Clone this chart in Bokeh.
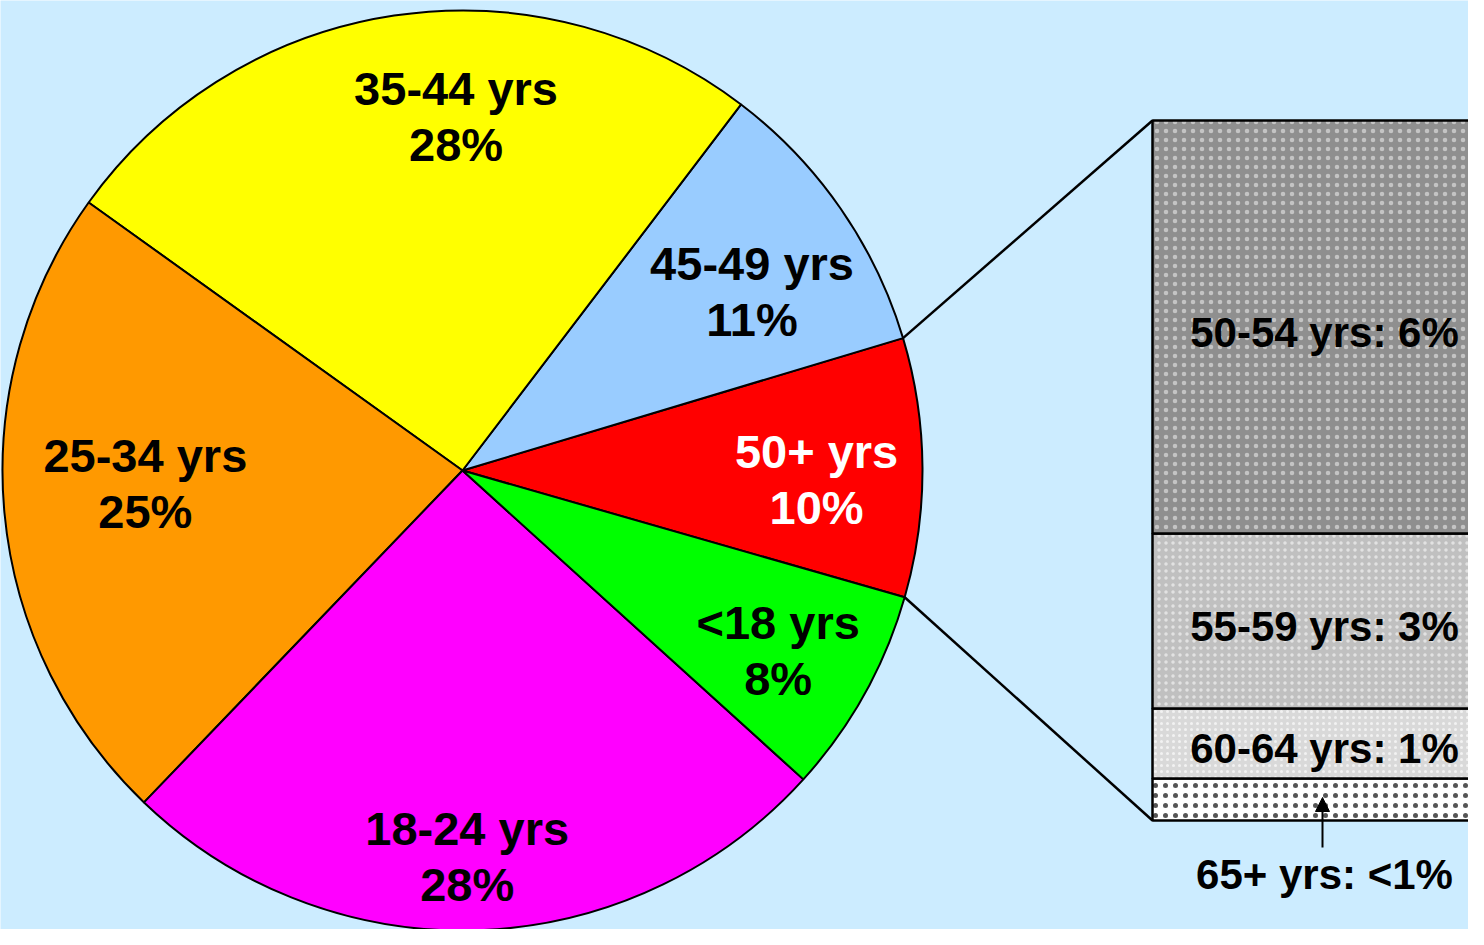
import numpy as np
from bokeh.plotting import figure
from bokeh.models import Range1d, ColumnDataSource, Arrow, NormalHead
from bokeh.core.properties import value
from bokeh.embed import file_html
from bokeh.resources import INLINE

# ---- data ----
pie_labels = ["50+ yrs", "45-49 yrs", "35-44 yrs", "25-34 yrs", "18-24 yrs", "<18 yrs"]
pie_values = [10, 11, 28, 25, 28, 8]
pie_colors = ["#FF0000", "#99CCFF", "#FFFF00", "#FF9900", "#FF00FF", "#00FF00"]
pie_text_colors = ["white", "black", "black", "black", "black", "black"]

bar_labels = ["65+ yrs: <1%", "60-64 yrs: 1%", "55-59 yrs: 3%", "50-54 yrs: 6%"]
bar_values = [0.6, 1.0, 2.5, 5.9]
bar_colors = ["#FFFFFF", "#D9D9D9", "#C0C0C0", "#8F8F8F"]
bar_hatch_colors = ["#555555", "#F2F2F2", "#E2E2E2", "#C4C4C4"]

# ---- layout (label placement nudges, not data) ----
label_radius = [0.77, 0.74, 0.77, 0.69, 0.84, 0.79]
label_angle_shift = [-1.9, -3.0, -7.5, -3.0, -1.3, -0.6]
hatch_scales = [10, 6, 7, 9]
hatch_weights = [0.3, 0.3, 0.3, 0.3]

BG = "#CCECFF"
FONT = "Liberation Sans"

W, H = 1468, 929
p = figure(width=W, height=H, output_backend="svg", toolbar_location=None,
           x_range=Range1d(8, 8 + W), y_range=Range1d(945 - 8 - H, 945 - 8),
           min_border=0)
p.axis.visible = False
p.grid.visible = False
p.outline_line_color = None
p.background_fill_color = BG
p.border_fill_color = BG

# ---- pie ----
cx, cy, R = 470, 467, 460
start0 = np.deg2rad(-16.0)
vals = np.array(pie_values, dtype=float)
frac = vals / vals.sum()
ends = start0 + np.cumsum(frac) * 2 * np.pi
starts = ends - frac * 2 * np.pi
mids = (starts + ends) / 2

src = ColumnDataSource(dict(start=starts, end=ends, color=pie_colors))
p.wedge(x=cx, y=cy, radius=R, start_angle="start", end_angle="end",
        direction="anticlock", fill_color="color", line_color="black",
        line_width=2, source=src)

la = mids + np.deg2rad(label_angle_shift)
lr = np.array(label_radius) * R
lx = cx + lr * np.cos(la)
ly = cy + lr * np.sin(la)
gap = 28
p.text(x=lx, y=ly + gap, text=pie_labels, text_color=pie_text_colors,
       text_font=value(FONT), text_font_style="bold", text_font_size="47px",
       text_align="center", text_baseline="middle")
p.text(x=lx, y=ly - gap, text=[f"{v}%" for v in pie_values], text_color=pie_text_colors,
       text_font=value(FONT), text_font_style="bold", text_font_size="47px",
       text_align="center", text_baseline="middle")

# ---- bar of pie ----
bx0, bx1 = 1160, 1504
bbot, btop = 117, 817
bv = np.array(bar_values)
scale = (btop - bbot) / bv.sum()
tops = bbot + np.cumsum(bv) * scale
bots = tops - bv * scale
for i in range(len(bv)):
    p.quad(left=bx0, right=bx1, bottom=bots[i], top=tops[i],
           fill_color=bar_colors[i], line_color="black", line_width=2.5,
           hatch_pattern="dot", hatch_color=bar_hatch_colors[i],
           hatch_scale=hatch_scales[i], hatch_weight=hatch_weights[i])

bmid = (bx0 + bx1) / 2
p.text(x=[bmid] * 3, y=list((bots[1:] + tops[1:]) / 2 - 5), text=bar_labels[1:],
       text_font=value(FONT), text_font_style="bold", text_font_size="42px",
       text_color="black", text_align="center", text_baseline="middle")
p.text(x=[bmid], y=[bbot - 54], text=[bar_labels[0]],
       text_font=value(FONT), text_font_style="bold", text_font_size="42px",
       text_color="black", text_align="center", text_baseline="middle")
p.add_layout(Arrow(end=NormalHead(size=14, fill_color="black", line_color="black"),
                   x_start=bmid - 2, y_start=bbot - 27, x_end=bmid - 2,
                   y_end=(bots[0] + tops[0]) / 2 + 2, line_width=2))

# connector lines
a_top = ends[0]
a_bot = starts[0]
p.line(x=[cx + R * np.cos(a_top), bx0], y=[cy + R * np.sin(a_top), btop],
       line_color="black", line_width=2.5)
p.line(x=[cx + R * np.cos(a_bot), bx0], y=[cy + R * np.sin(a_bot), bbot],
       line_color="black", line_width=2.5)

html = file_html(p, INLINE)
html = html.replace("<body>", '<body style="background-color:%s;">' % BG, 1)
open("out.html", "w").write(html)
